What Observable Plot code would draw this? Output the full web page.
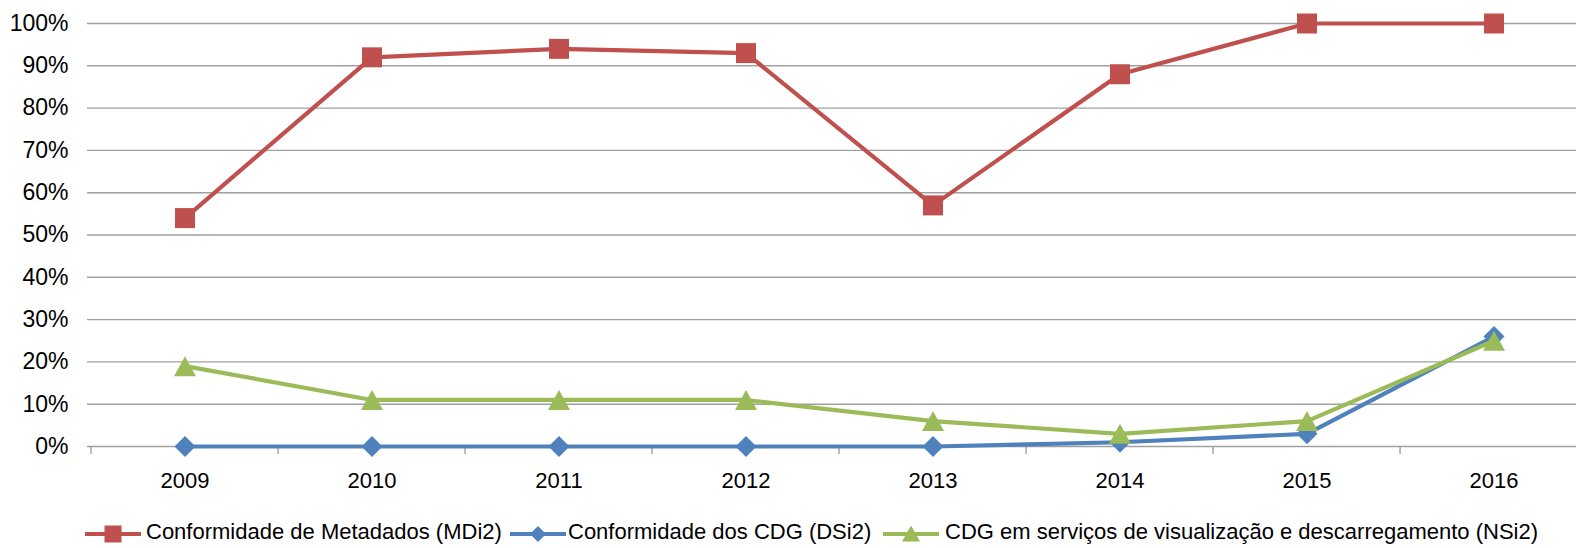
<!DOCTYPE html>
<html>
<head>
<meta charset="utf-8">
<script src="https://cdn.jsdelivr.net/npm/d3@7"></script>
<script src="https://cdn.jsdelivr.net/npm/@observablehq/plot@0.6"></script>
<style>
html, body { margin: 0; padding: 0; background: #fff; overflow: hidden; }
body { width: 1576px; height: 548px; font-family: "Liberation Sans", Arial, sans-serif; }
#chart { position: relative; width: 1576px; height: 500px; }
#legend { position: relative; width: 1576px; height: 48px; font-size: 22px; color: #000; }
#legend .sw { position: absolute; top: 24px; }
#legend .lt { position: absolute; top: 21px; line-height: 22px; white-space: nowrap; }
</style>
</head>
<body>
<div id="chart"></div>
<div id="legend"></div>
<script>
// ---- Data ----
const years = ["2009", "2010", "2011", "2012", "2013", "2014", "2015", "2016"];
const metadados = [0.54, 0.92, 0.94, 0.93, 0.57, 0.88, 1.00, 1.00];   // MDi2
const cdg       = [0.00, 0.00, 0.00, 0.00, 0.00, 0.01, 0.03, 0.26];   // DSi2
const servicos  = [0.19, 0.11, 0.11, 0.11, 0.06, 0.03, 0.06, 0.25];   // NSi2
const seriesNames = [
  "Conformidade de Metadados (MDi2)",
  "Conformidade dos CDG (DSi2)",
  "CDG em serviços de visualização e descarregamento (NSi2)"
];
const seriesColors = ["#C0504D", "#4F81BD", "#9BBB59"];
const yTicks = [0, 0.1, 0.2, 0.3, 0.4, 0.5, 0.6, 0.7, 0.8, 0.9, 1.0];

// ---- Layout ----
const W = 1576, H = 500;
const mLeft = 87, mTop = 23, mBottom = 54;
const xRight = 1590;           // the plot area runs slightly past the picture edge
const bw = (xRight - mLeft) / years.length;
const gridColor = "#a0a0a0";

// ---- Symbols ----
function squareSym(s) { const h = s / 2; return {draw(ctx) { ctx.rect(-h, -h, s, s); }}; }
function diamondSym(s) { const h = s / 2; return {draw(ctx) { ctx.moveTo(0, -h); ctx.lineTo(h, 0); ctx.lineTo(0, h); ctx.lineTo(-h, 0); ctx.closePath(); }}; }
function triangleSym(w, hgt) { const a = w / 2, b = hgt / 2; return {draw(ctx) { ctx.moveTo(0, -b); ctx.lineTo(a, b); ctx.lineTo(-a, b); ctx.closePath(); }}; }
const chartSymbols = [squareSym(20), diamondSym(21), triangleSym(22, 20)];

const seriesValues = [metadados, cdg, servicos];
const rows = [];
seriesValues.forEach((vals, si) => vals.forEach((v, i) => rows.push({year: years[i], value: v, series: seriesNames[si]})));

const seriesMarks = [];
seriesNames.forEach((name, si) => {
  const data = rows.filter(d => d.series === name);
  seriesMarks.push(Plot.line(data, {x: "year", y: "value", stroke: seriesColors[si], strokeWidth: 4.2, strokeLinejoin: "round"}));
  seriesMarks.push(Plot.dot(data, {x: "year", y: "value", symbol: chartSymbols[si], fill: seriesColors[si], stroke: "none"}));
});

const chart = Plot.plot({
  width: W,
  height: H,
  marginLeft: mLeft,
  marginRight: 0,
  marginTop: mTop,
  marginBottom: mBottom,
  style: {fontFamily: "'Liberation Sans', Arial, sans-serif", fontSize: "22px", color: "#000", background: "#fff", overflow: "visible"},
  x: {type: "band", domain: years, range: [mLeft, xRight], padding: 0, label: null},
  y: {domain: [0, 1], label: null},
  marks: [
    Plot.ruleY(yTicks, {y: d => d, stroke: gridColor, strokeWidth: 1.4}),
    Plot.ruleX(years, {x: d => d, dx: -bw / 2, y1: 0, y2: 0, insetBottom: -8, stroke: gridColor, strokeWidth: 1.4}),
    Plot.axisY({ticks: yTicks, tickFormat: d3.format(".0%"), tickSize: 0, tickPadding: 19, fontSize: 23, label: null}),
    Plot.axisX({tickSize: 0, tickPadding: 26, fontSize: 22, label: null}),
    ...seriesMarks
  ]
});
document.getElementById("chart").appendChild(chart);

// ---- Legend (HTML below the SVG) ----
const legendSymbols = [
  c => `<rect x="19.5" y="1.5" width="17" height="17" fill="${c}"/>`,
  c => `<path d="M28,2 L36,10 L28,18 L20,10 Z" fill="${c}"/>`,
  c => `<path d="M28,1.5 L37,17.5 L19,17.5 Z" fill="${c}"/>`
];
const swatchLeft = [85, 510, 883];
const textLeft = [146, 568, 945];
const legend = document.getElementById("legend");
seriesNames.forEach((name, si) => {
  const sw = document.createElement("div");
  sw.className = "sw";
  sw.style.left = swatchLeft[si] + "px";
  sw.innerHTML = `<svg width="56" height="20"><line x1="0" y1="10" x2="56" y2="10" stroke="${seriesColors[si]}" stroke-width="4"/>${legendSymbols[si](seriesColors[si])}</svg>`;
  legend.appendChild(sw);
  const t = document.createElement("div");
  t.className = "lt";
  t.style.left = textLeft[si] + "px";
  t.textContent = name;
  legend.appendChild(t);
});
</script>
</body>
</html>
